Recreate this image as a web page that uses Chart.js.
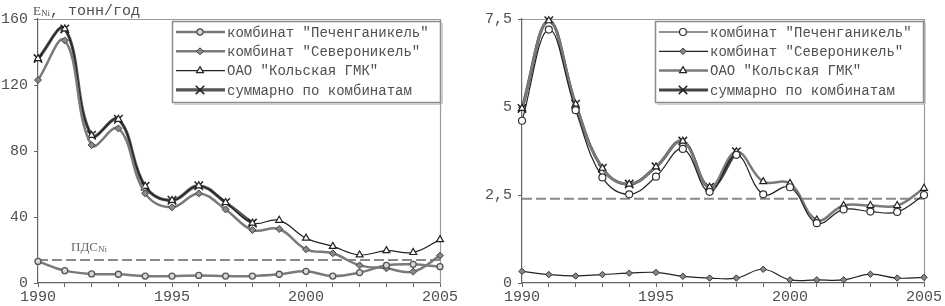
<!DOCTYPE html>
<html><head><meta charset="utf-8">
<script src="https://cdn.jsdelivr.net/npm/chart.js@4/dist/chart.umd.min.js"></script>
<style>
html,body{margin:0;padding:0;background:#fff;}
#wrap{position:relative;width:945px;height:306px;overflow:hidden;}
.c{position:absolute;top:0;}
</style></head><body>
<div id="wrap">
<div class="c" style="left:0;width:470px;height:306px"><canvas id="ni"></canvas></div>
<div class="c" style="left:475px;width:470px;height:306px"><canvas id="cu"></canvas></div>
</div>
<script>
// ---------- DATA ----------
const years = [1990,1991,1992,1993,1994,1995,1996,1997,1998,1999,2000,2001,2002,2003,2004,2005];
const seriesNames = ['комбинат "Печенганикель"','комбинат "Североникель"','ОАО "Кольская ГМК"','суммарно по комбинатам'];

// Ni emissions, t/year
const niPechenga = [13.1,7.5,5.5,5.3,4.2,4.2,4.6,4.2,4.2,5.3,7.1,4.2,6.3,10.7,11.3,9.9];
const niSevero   = [123,147,83.6,93.7,54.3,45.9,54.3,44.6,32.1,32.7,20.4,18.0,10.7,8.9,6.9,16.6];
const niKola     = [136,154,89.5,99.2,58.6,50.1,58.9,48.8,36.3,38.0,27.2,22.2,17.0,19.6,18.5,26.3];
const niTotal    = [136,154,89.5,99.2,58.6,50.1,58.9,48.8,36.3,null,null,null,null,null,null,null];
const niLimit = 14;
const niTicks = [0,40,80,120,160];

// Cu emissions, t/year
const cuPechenga = [4.61,7.2,4.91,3.0,2.52,3.02,3.81,2.59,3.64,2.52,2.72,1.70,2.09,2.03,2.02,2.5];
const cuSevero   = [0.33,0.24,0.20,0.24,0.28,0.30,0.19,0.14,0.14,0.39,0.09,0.09,0.09,0.25,0.14,0.16];
const cuKola     = [4.96,7.45,5.08,3.26,2.81,3.3,4.03,2.72,3.73,2.88,2.83,1.79,2.2,2.2,2.2,2.69];
const cuTotal    = [4.96,7.45,5.08,3.26,2.81,3.3,4.03,2.72,3.73,null,null,null,null,null,null,null];
const cuLimit = 2.39;
const cuTicks = [0,2.5,5,7.5];

const MONO = '"Liberation Mono","Courier New",monospace';
const SERIF = '"Liberation Serif","Times New Roman",serif';
const TXT = '#505050';

function pts(arr){ return years.map((y,i)=>({x:y,y:arr[i]})); }

function makeChart(id, cfg){
  const styles = cfg.styles;
  const datasets = cfg.series.map((arr,i)=>Object.assign({
    label: seriesNames[i], data: pts(arr), tension:0.4, spanGaps:false,
    fill:false, clip:false
  }, styles[i]));
  datasets.push({label:'limit', data:[{x:years[0],y:cfg.limit},{x:years[years.length-1],y:cfg.limit}],
    borderColor:'#8a8a8a', borderWidth:2, borderDash:[10,4], pointRadius:0, tension:0, order:10});

  const deco = {
    id:'deco',
    beforeDatasetsDraw(chart){
      const {ctx, chartArea:a} = chart;
      ctx.save();
      ctx.strokeStyle='#9a9a9a'; ctx.lineWidth=1.2;
      ctx.beginPath();
      ctx.moveTo(a.left, a.top+0.5); ctx.lineTo(a.right+0.5, a.top+0.5); ctx.lineTo(a.right+0.5, a.bottom);
      ctx.stroke();
      ctx.restore();
    },
    afterDraw(chart){
      const {ctx, chartArea:a} = chart;
      const ys = chart.scales.y;
      ctx.save();
      // axis title
      ctx.fillStyle=TXT; ctx.textBaseline='alphabetic'; ctx.textAlign='left';
      let tx = cfg.titleX;
      ctx.font='13px '+SERIF; ctx.fillText('E', tx, 15); tx += ctx.measureText('E').width;
      ctx.font='9px '+SERIF; ctx.fillText(cfg.sub, tx, 16); tx += ctx.measureText(cfg.sub).width;
      ctx.font='15px '+MONO; ctx.fillText(', тонн/год', tx, 15);
      // limit label
      const ly = ys.getPixelForValue(cfg.limit) - 9;
      let lx = cfg.limitLabelX;
      ctx.fillStyle='#666';
      ctx.font='13px '+SERIF; ctx.fillText('ПДС', lx, ly); lx += ctx.measureText('ПДС').width;
      ctx.font='9px '+SERIF; ctx.fillText(cfg.sub, lx, ly+1);
      // legend
      const L = cfg.legend;
      ctx.fillStyle='#fff';
      ctx.fillRect(L.x, L.y, L.w, L.h);
      ctx.strokeStyle='#8c8c8c'; ctx.lineWidth=1.5;
      ctx.strokeRect(L.x+0.5, L.y+0.5, L.w, L.h);
      ctx.fillStyle='#bbb'; ctx.fillRect(L.x+L.w+1.5, L.y+2, 1.2, L.h); ctx.fillRect(L.x+2, L.y+L.h+1.5, L.w, 1.2);
      for(let i=0;i<4;i++){
        const s = styles[i];
        const cy = L.y + 11 + i*19.3;
        ctx.save();
        ctx.strokeStyle=s.borderColor; ctx.lineWidth=s.borderWidth;
        ctx.beginPath(); ctx.moveTo(L.x+4, cy); ctx.lineTo(L.x+53, cy); ctx.stroke();
        ctx.fillStyle = s.pointBackgroundColor; ctx.strokeStyle = s.pointBorderColor; ctx.lineWidth = s.pointBorderWidth||1;
        Chart.helpers.drawPoint(ctx, {pointStyle:s.pointStyle, radius:s.pointRadius, rotation:0, borderWidth:s.pointBorderWidth||1}, L.x+28, cy);
        ctx.restore();
        ctx.fillStyle=TXT; ctx.font='14px '+MONO; ctx.textBaseline='middle';
        ctx.fillText(seriesNames[i], L.x+55, cy+1);
      }
      ctx.restore();
    }
  };

  return new Chart(document.getElementById(id), {
    type:'line',
    data:{datasets},
    plugins:[deco],
    options:{
      responsive:true, maintainAspectRatio:false, animation:false,
      layout:{padding:{top:19, right:cfg.padRight, left:0, bottom:0}},
      plugins:{legend:{display:false}, tooltip:{enabled:false}},
      scales:{
        x:{type:'linear', min:years[0], max:years[years.length-1],
          afterFit(s){ s.height = 23; },
          afterBuildTicks(s){ s.ticks = years.map(v=>({value:v})); },
          border:{color:'#666', width:1.2},
          grid:{drawOnChartArea:false, drawTicks:true, tickLength:4, color:'#666'},
          ticks:{autoSkip:false, maxRotation:0, padding:1, color:TXT, font:{family:MONO, size:15},
            callback:(v)=> (v%5===0 ? String(v) : '')}
        },
        y:{min:0, max:cfg.ticks[cfg.ticks.length-1],
          afterFit(s){ s.width = cfg.yWidth; },
          afterBuildTicks(s){ s.ticks = cfg.ticks.map(v=>({value:v})); },
          border:{color:'#666', width:1.2},
          grid:{drawOnChartArea:false, drawTicks:true, tickLength:4, color:'#666'},
          ticks:{padding:6, color:TXT, font:{family:MONO, size:15},
            callback:(v)=> String(v).replace('.', ',')}
        }
      }
    }
  });
}

makeChart('ni', {
  series:[niPechenga, niSevero, niKola, niTotal], limit:niLimit, ticks:niTicks, sub:'Ni',
  yWidth:38, padRight:30, titleX:33, limitLabelX:71,
  legend:{x:172, y:21, w:268, h:81},
  styles:[
    {borderColor:'#7a7a7a', borderWidth:2.5, pointStyle:'circle', pointRadius:3, pointBackgroundColor:'#d8d8d8', pointBorderColor:'#555', pointBorderWidth:1.3},
    {borderColor:'#7a7a7a', borderWidth:2.5, pointStyle:'rectRot', pointRadius:3.5, pointBackgroundColor:'#888', pointBorderColor:'#444', pointBorderWidth:1},
    {borderColor:'#222', borderWidth:1.2, pointStyle:'triangle', pointRadius:4, pointBackgroundColor:'#fff', pointBorderColor:'#222', pointBorderWidth:1.2},
    {borderColor:'#555', borderWidth:3.2, pointStyle:'crossRot', pointRadius:6, pointBackgroundColor:'#222', pointBorderColor:'#222', pointBorderWidth:1.5}
  ]
});

makeChart('cu', {
  series:[cuPechenga, cuSevero, cuKola, cuTotal], limit:cuLimit, ticks:cuTicks, sub:'Cu',
  yWidth:47, padRight:21, titleX:518, limitLabelX:536,
  legend:{x:180, y:21, w:268, h:81},
  styles:[
    {borderColor:'#222', borderWidth:1.2, pointStyle:'circle', pointRadius:3.5, pointBackgroundColor:'#fff', pointBorderColor:'#333', pointBorderWidth:1.2},
    {borderColor:'#222', borderWidth:1.2, pointStyle:'rectRot', pointRadius:3.2, pointBackgroundColor:'#888', pointBorderColor:'#333', pointBorderWidth:1},
    {borderColor:'#7a7a7a', borderWidth:2.5, pointStyle:'triangle', pointRadius:4, pointBackgroundColor:'#fff', pointBorderColor:'#222', pointBorderWidth:1.2},
    {borderColor:'#444', borderWidth:3, pointStyle:'crossRot', pointRadius:6, pointBackgroundColor:'#222', pointBorderColor:'#222', pointBorderWidth:1.5}
  ]
});
</script>
</body></html>
